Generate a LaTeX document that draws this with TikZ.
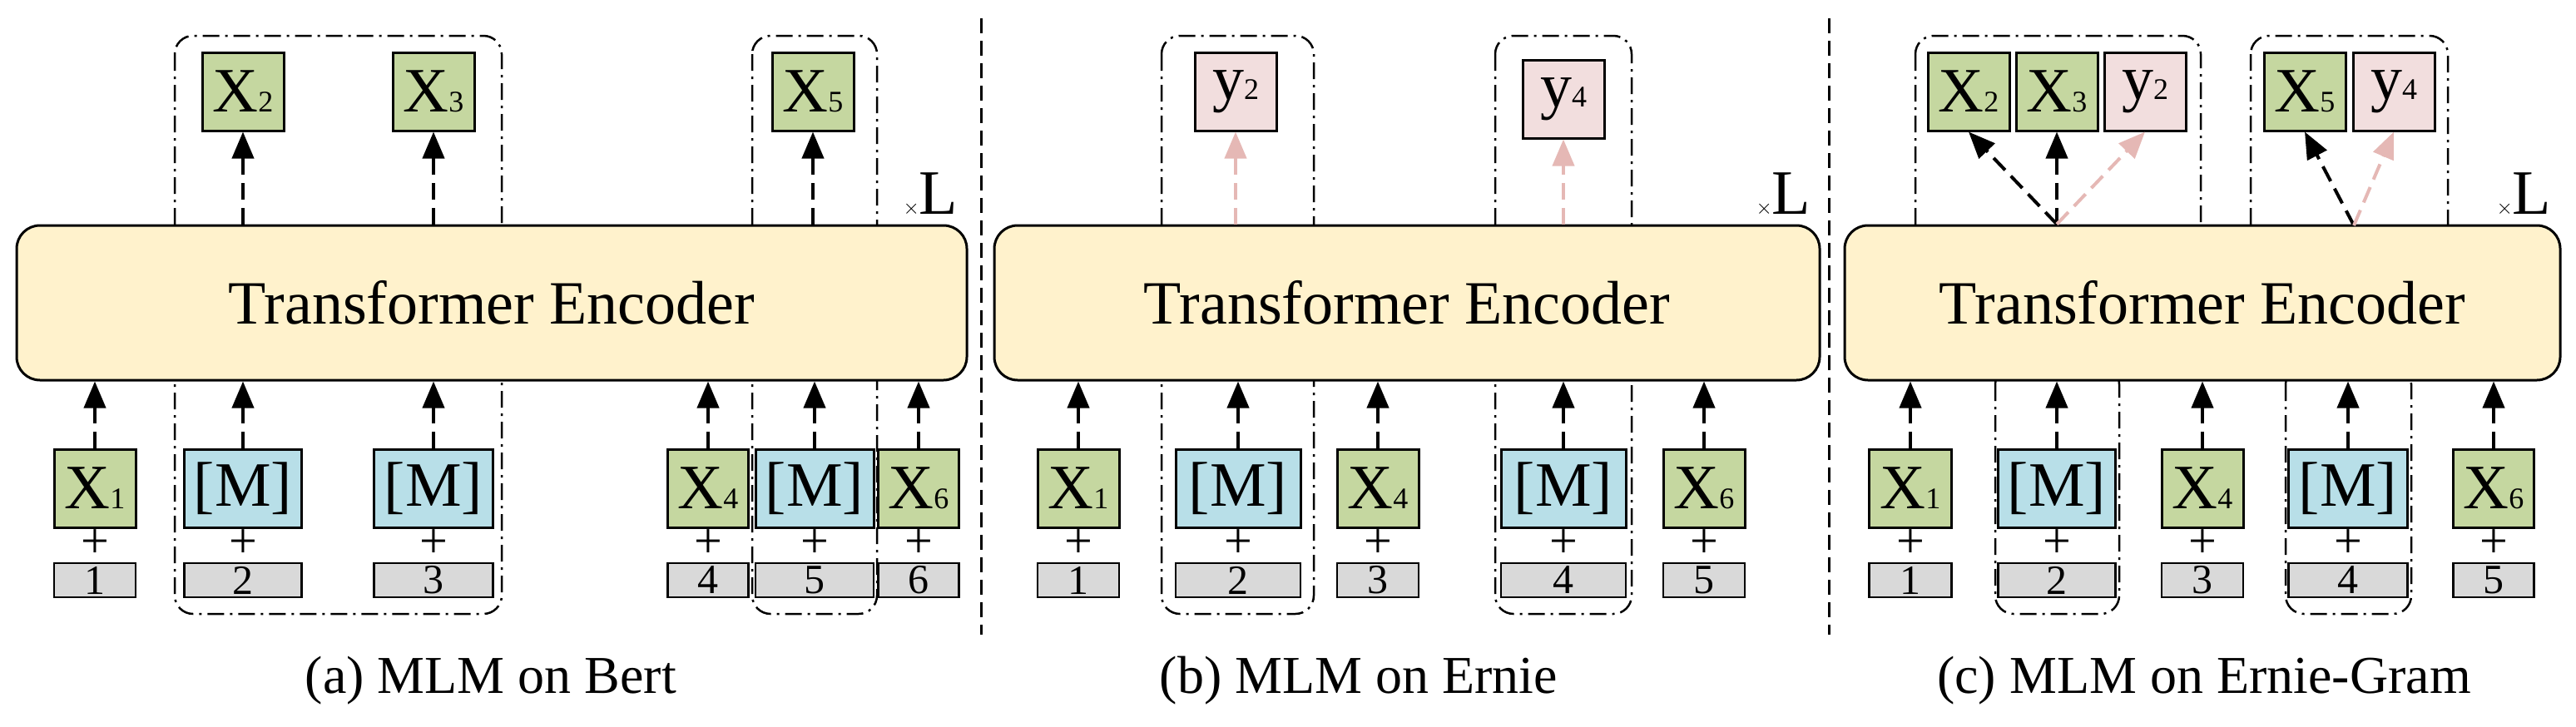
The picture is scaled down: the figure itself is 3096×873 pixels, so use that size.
\documentclass[tikz,border=0pt]{standalone}
\usepackage{fontspec}
\setmainfont{Liberation Serif}
\usetikzlibrary{arrows.meta}
\definecolor{tokgreen}{RGB}{197,215,160}
\definecolor{tokblue}{RGB}{184,223,232}
\definecolor{tokpink}{RGB}{242,222,222}
\definecolor{encfill}{RGB}{255,242,204}
\definecolor{posgray}{RGB}{217,217,217}
\definecolor{arrpink}{RGB}{229,184,181}
\newcommand\idx[1]{{\fontsize{36}{36}\selectfont #1}}
\begin{document}
\begin{tikzpicture}[x=1pt,y=-1pt,
    tok/.style = {draw, line width=3pt, minimum height=94pt, inner sep=0pt,
      font=\fontsize{76}{76}\selectfont},
    xg/.style = {tok, fill=tokgreen},
    mb/.style = {tok, fill=tokblue},
    yp/.style = {tok, fill=tokpink},
    posbox/.style = {draw, line width=2.5pt, fill=posgray, minimum height=41pt,
      inner sep=0pt, font=\fontsize{50}{50}\selectfont},
    enc/.style = {draw, line width=3pt, fill=encfill, rounded corners=28pt,
      font=\fontsize{74}{74}\selectfont},
    grp/.style = {line width=2.5pt, rounded corners=22pt,
      dash pattern=on 20pt off 7pt on 3pt off 7pt},
    up/.style = {line width=4pt, dash pattern=on 20pt off 10pt,
      -{Triangle[length=32pt,width=26pt]}},
    uppink/.style = {up, draw=arrpink, -{Triangle[length=32pt,width=26pt,fill=arrpink]}},
    capt/.style = {font=\fontsize{64}{64}\selectfont}
  ]
  \useasboundingbox (0,0) rectangle (3096,873);
  % dash-dot groups, behind the encoders
  \draw[grp] (210,43) rectangle (603,738);
  \draw[grp] (904,43) rectangle (1054,738);
  \draw[grp] (1396,43) rectangle (1579,738);
  \draw[grp] (1797,43) rectangle (1961,738);
  \draw[grp] (2302,43) rectangle (2645,300);
  \draw[grp] (2705,43) rectangle (2942,300);
  \draw[grp] (2398,440) rectangle (2547,738);
  \draw[grp] (2747,440) rectangle (2898,738);
  % encoders
  \node[enc, minimum width=1142pt, minimum height=186pt] (a-enc) at (591,364) {Transformer Encoder};
  \node[enc, minimum width=992pt, minimum height=186pt] (b-enc) at (1691,364) {Transformer Encoder};
  \node[enc, minimum width=860pt, minimum height=186pt] (c-enc) at (2647,364) {Transformer Encoder};
  \foreach \p in {a,b,c}{ % number of layers
      \node[anchor=south east, inner sep=0pt] (\p-rep) at ([xshift=-12pt,yshift=10pt]\p-enc.north east)
        {\fontsize{44}{44}\selectfont$\times$\fontsize{76}{76}\selectfont L};
    }
  % input tokens, plus signs and positions
  \foreach \p/\cx/\w/\k/\t/\n/\m in {
      a/114/98/xg/{X\idx{1}}/1/1, a/292/141/mb/{[M]}/2/2, a/521/143/mb/{[M]}/3/3,
      a/851/97/xg/{X\idx{4}}/4/4, a/979/142/mb/{[M]}/5/5, a/1104/97/xg/{X\idx{6}}/6/6,
      b/1296/98/xg/{X\idx{1}}/1/1, b/1488/150/mb/{[M]}/2/2, b/1656/98/xg/{X\idx{4}}/3/3,
      b/1879/150/mb/{[M]}/4/4, b/2048/98/xg/{X\idx{6}}/5/5,
      c/2296/99/xg/{X\idx{1}}/1/1, c/2472/141/mb/{[M]}/2/2, c/2647/98/xg/{X\idx{4}}/3/3,
      c/2822/143/mb/{[M]}/4/4, c/2997/97/xg/{X\idx{6}}/5/5}{
      \node[\k, minimum width=\w pt] (\p-t\n) at (\cx,587) {\t};
      \node[font=\fontsize{60}{60}\selectfont, inner sep=0pt] (\p-plus\n) at (\cx,654) {+};
      \node[posbox, minimum width=\w pt] (\p-p\n) at (\cx,697.5) {\m};
      \draw[up] (\p-t\n) -- (\p-t\n |- \p-enc.south);
    }
  % predicted tokens
  \foreach \p/\cx/\cy/\k/\t/\n in {
      a/292/110/xg/{X\idx{2}}/2, a/521/110/xg/{X\idx{3}}/3, a/977/110/xg/{X\idx{5}}/5,
      b/1485/110/yp/{y\idx{2}}/2, b/1879/119/yp/{y\idx{4}}/4}{
      \node[\k, minimum width=98pt] (\p-o\n) at (\cx,\cy) {\t};
    }
  \foreach \n in {2,3,5}{
      \draw[up] (a-o\n |- a-enc.north) -- (a-o\n);
    }
  \foreach \n in {2,4}{
      \draw[uppink] (b-o\n |- b-enc.north) -- (b-o\n);
    }
  \node[xg, minimum width=98pt] (c-o2) at (2366,110) {X\idx{2}};
  \node[xg, minimum width=98pt] (c-o3) at (2472,110) {X\idx{3}};
  \node[yp, minimum width=98pt] (c-oy2) at (2578,110) {y\idx{2}};
  \node[xg, minimum width=98pt] (c-o5) at (2770,110) {X\idx{5}};
  \node[yp, minimum width=98pt] (c-oy4) at (2877,110) {y\idx{4}};
  \coordinate (c-s1) at (c-o3 |- c-enc.north);
  \coordinate (c-s2) at (2829,271);
  \draw[up] (c-s1) -- (c-o2.south);
  \draw[up] (c-s1) -- (c-o3.south);
  \draw[uppink] (c-s1) -- (c-oy2.south);
  \draw[up] (c-s2) -- (c-o5.south);
  \draw[uppink] (c-s2) -- (c-oy4.south);
  % separators
  \draw[line width=3pt, dash pattern=on 18pt off 9pt] (1179,22) -- (1179,763);
  \draw[line width=3pt, dash pattern=on 18pt off 9pt] (2198,22) -- (2198,763);
  % captions
  \node[capt] (a-cap) at (590,818) {(a) MLM on Bert};
  \node[capt] (b-cap) at (1633,818) {(b) MLM on Ernie};
  \node[capt] (c-cap) at (2649,818) {(c) MLM on Ernie-Gram};
\end{tikzpicture}
\end{document}
